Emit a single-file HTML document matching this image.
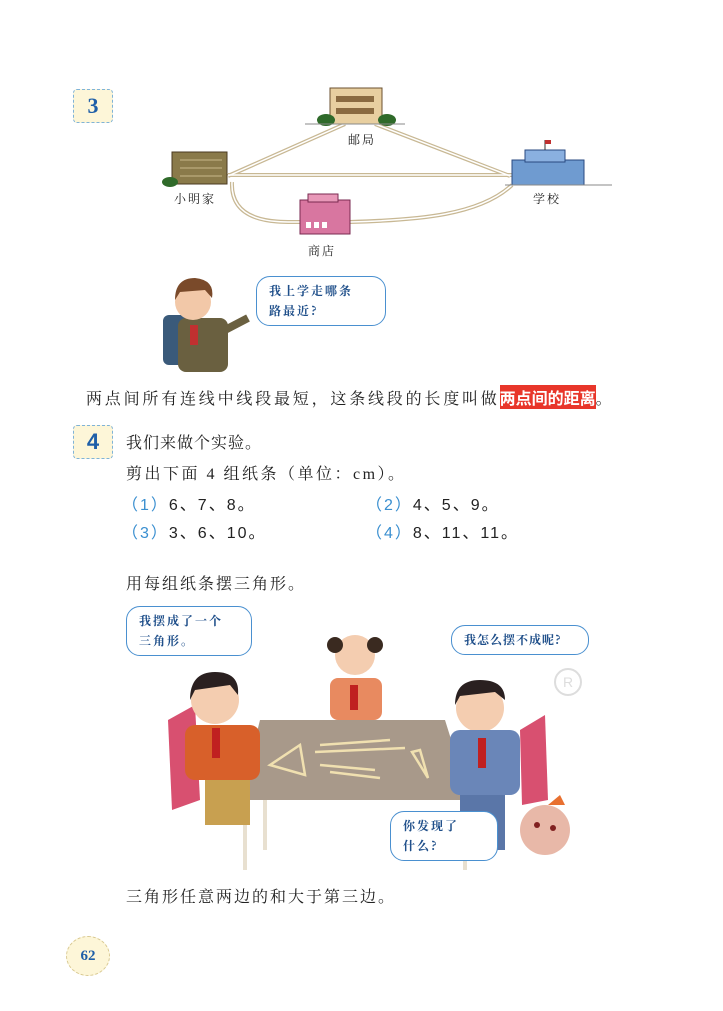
<!DOCTYPE html>
<html><head><meta charset="utf-8">
<style>
body{margin:0;width:723px;height:1011px;background:#fff;position:relative;overflow:hidden;font-family:"Liberation Serif","Noto Serif CJK SC","Noto Sans CJK SC",serif;color:#222}
.a{position:absolute;white-space:nowrap}
.t{font-size:16px;letter-spacing:1px}
.badge{position:absolute;width:38px;height:32px;background:#fdf6d8;border:1.5px dashed #7fb3d8;border-radius:4px;color:#1f5fa8;font:bold 22px "Liberation Serif",serif;text-align:center;line-height:32px}
.bub{position:absolute;border:1.5px solid #4a90d0;border-radius:14px;background:#fff;color:#1f4f8a;font-size:12px;line-height:20px;padding:4px 12px;font-family:"Noto Serif CJK SC",serif;letter-spacing:2px;font-weight:bold}
.blue{color:#3a8fd0}
.s{font-family:"Liberation Sans","Noto Sans CJK SC",sans-serif}
</style></head><body>
<div class="badge" style="left:73px;top:89px">3</div>

<svg class="a" style="left:0;top:0" width="723" height="380">
 <g fill="none" stroke="#c8b894" stroke-width="4">
  <line x1="228" y1="176" x2="345" y2="124"/>
  <line x1="375" y1="124" x2="510" y2="176"/>
  <line x1="228" y1="175" x2="512" y2="175"/>
  <path d="M232 182 C230 225 280 222 300 222 L350 222 C420 220 480 215 512 185"/>
 </g>
 <g fill="none" stroke="#fff" stroke-width="1.5">
  <line x1="228" y1="176" x2="345" y2="124"/>
  <line x1="375" y1="124" x2="510" y2="176"/>
  <line x1="228" y1="175" x2="512" y2="175"/>
  <path d="M232 182 C230 225 280 222 300 222 L350 222 C420 220 480 215 512 185"/>
 </g>
 <g><rect x="330" y="88" width="52" height="36" fill="#e8cfa0" stroke="#6b5030"/><rect x="336" y="96" width="38" height="6" fill="#8a6a40"/><rect x="336" y="108" width="38" height="6" fill="#8a6a40"/><ellipse cx="326" cy="120" rx="9" ry="6" fill="#2f6a2a"/><ellipse cx="387" cy="120" rx="9" ry="6" fill="#2f6a2a"/><line x1="305" y1="124" x2="405" y2="124" stroke="#888"/></g>
 <g><rect x="172" y="152" width="55" height="32" fill="#8a7a4a" stroke="#4a3a20"/><g stroke="#c8b88a"><line x1="180" y1="160" x2="222" y2="160"/><line x1="180" y1="168" x2="222" y2="168"/><line x1="180" y1="176" x2="222" y2="176"/></g><ellipse cx="170" cy="182" rx="8" ry="5" fill="#2f6a2a"/></g>
 <g><rect x="512" y="160" width="72" height="25" fill="#6f9bd0" stroke="#2a4a80"/><rect x="525" y="150" width="40" height="12" fill="#8ab0e0" stroke="#2a4a80"/><line x1="545" y1="150" x2="545" y2="140" stroke="#333"/><rect x="545" y="140" width="6" height="4" fill="#c03030"/><line x1="505" y1="185" x2="612" y2="185" stroke="#888"/></g>
 <g><rect x="300" y="200" width="50" height="34" fill="#d876a0" stroke="#7a2a50"/><rect x="308" y="194" width="30" height="8" fill="#e898b8" stroke="#7a2a50"/><g fill="#fff"><rect x="306" y="222" width="5" height="6"/><rect x="314" y="222" width="5" height="6"/><rect x="322" y="222" width="5" height="6"/></g></g>
 <g><rect x="163" y="315" width="24" height="50" rx="6" fill="#3a5a7a"/><rect x="178" y="318" width="50" height="54" rx="8" fill="#6a6040"/><circle cx="193" cy="302" r="18" fill="#f2c8a8"/><path d="M175 300 Q175 278 195 278 Q215 280 212 298 L205 290 L180 292Z" fill="#7a4a2a"/><line x1="225" y1="330" x2="248" y2="318" stroke="#6a6040" stroke-width="8"/><rect x="190" y="325" width="8" height="20" fill="#c03030"/></g>
</svg>
<div class="a" style="left:348px;top:131px;font-size:12px;letter-spacing:2px">邮局</div>
<div class="a" style="left:174px;top:190px;font-size:12px;letter-spacing:2px">小明家</div>
<div class="a" style="left:533px;top:190px;font-size:12px;letter-spacing:2px">学校</div>
<div class="a" style="left:308px;top:242px;font-size:12px;letter-spacing:2px">商店</div>
<div class="bub" style="left:256px;top:276px;width:104px">我上学走哪条<br>路最近?</div>

<div class="a t" style="left:86px;top:385px;font-size:16px;letter-spacing:2.8px">两点间所有连线中线段最短，这条线段的长度叫做<span style="background:#e8362a;color:#fff;font-weight:bold;font-family:'Noto Sans CJK SC',sans-serif;letter-spacing:0">两点间的距离</span>。</div>

<div class="badge" style="left:73px;top:425px;font-family:'Liberation Sans',sans-serif">4</div>
<div class="a t" style="left:126px;top:430px">我们来做个实验。</div>
<div class="a t" style="left:126px;top:461px;letter-spacing:2.5px">剪出下面 4 组纸条（单位：cm）。</div>
<div class="a t s" style="left:122px;top:491px;letter-spacing:2px"><span class="blue">（1）</span>6、7、8。</div>
<div class="a t s" style="left:366px;top:491px;letter-spacing:2px"><span class="blue">（2）</span>4、5、9。</div>
<div class="a t s" style="left:122px;top:519px;letter-spacing:2px"><span class="blue">（3）</span>3、6、10。</div>
<div class="a t s" style="left:366px;top:519px;letter-spacing:2px"><span class="blue">（4）</span>8、11、11。</div>
<div class="a t" style="left:126px;top:571px;letter-spacing:2px">用每组纸条摆三角形。</div>

<svg class="a" style="left:0;top:600px" width="723" height="285">
 <g><path d="M168 120 L195 105 L200 200 L172 210Z" fill="#d85070"/><path d="M520 130 L545 115 L548 200 L522 205Z" fill="#d85070"/></g>
 <g><circle cx="355" cy="55" r="20" fill="#f4cdb0"/><circle cx="335" cy="45" r="8" fill="#3a2a20"/><circle cx="375" cy="45" r="8" fill="#3a2a20"/><rect x="330" y="78" width="52" height="42" rx="8" fill="#e88a60"/><rect x="350" y="85" width="8" height="25" fill="#c02020"/></g>
 <path d="M260 120 L445 120 L470 200 L240 200Z" fill="#a8998a"/>
 <g stroke="#e8e0d0" stroke-width="4"><line x1="245" y1="200" x2="245" y2="270"/><line x1="465" y1="200" x2="465" y2="270"/><line x1="265" y1="200" x2="265" y2="250"/></g>
 <g stroke="#f0e0b0" stroke-width="2.5" fill="none"><path d="M270 165 L300 145 L305 175Z"/><line x1="320" y1="145" x2="390" y2="140"/><line x1="315" y1="152" x2="405" y2="148"/><line x1="320" y1="165" x2="375" y2="170"/><line x1="330" y1="172" x2="380" y2="178"/><path d="M412 152 L420 150 L428 178Z"/></g>
 <g><circle cx="215" cy="100" r="24" fill="#f4cdb0"/><path d="M190 100 Q190 72 215 72 Q240 72 238 95 L230 85 L195 90Z" fill="#2a2020"/><rect x="185" y="125" width="75" height="55" rx="10" fill="#d8602a"/><rect x="205" y="180" width="45" height="45" fill="#c8a050"/><rect x="212" y="128" width="8" height="30" fill="#c02020"/></g>
 <g><circle cx="480" cy="108" r="24" fill="#f4cdb0"/><path d="M455 105 Q455 80 480 80 Q505 80 505 100 L495 92 L460 96Z" fill="#2a2020"/><rect x="450" y="130" width="70" height="65" rx="10" fill="#6a86b8"/><rect x="460" y="195" width="45" height="55" fill="#5a76a8"/><rect x="478" y="138" width="8" height="30" fill="#c02020"/></g>
 <g><circle cx="545" cy="230" r="25" fill="#e8b8a8"/><circle cx="537" cy="225" r="3" fill="#802020"/><circle cx="553" cy="228" r="3" fill="#802020"/><path d="M548 205 L560 195 L565 205Z" fill="#e87030"/></g>
 <circle cx="568" cy="82" r="13" fill="none" stroke="#ddd" stroke-width="2"/><text x="568" y="87" font-size="14" fill="#ddd" text-anchor="middle" font-family="Liberation Sans">R</text>
</svg>
<div class="bub" style="left:126px;top:606px;width:100px">我摆成了一个<br>三角形。</div>
<div class="bub" style="left:451px;top:625px;width:112px;letter-spacing:1px">我怎么摆不成呢?</div>
<div class="bub" style="left:390px;top:811px;width:82px">你发现了<br>什么?</div>

<div class="a t" style="left:126px;top:884px;letter-spacing:2px">三角形任意两边的和大于第三边。</div>
<div class="a" style="left:66px;top:936px;width:42px;height:38px;border-radius:50%;background:#fdf6d8;border:1.5px dashed #d8c890;color:#1f5fa8;font:bold 15px 'Liberation Serif',serif;text-align:center;line-height:38px">62</div>
</body></html>
